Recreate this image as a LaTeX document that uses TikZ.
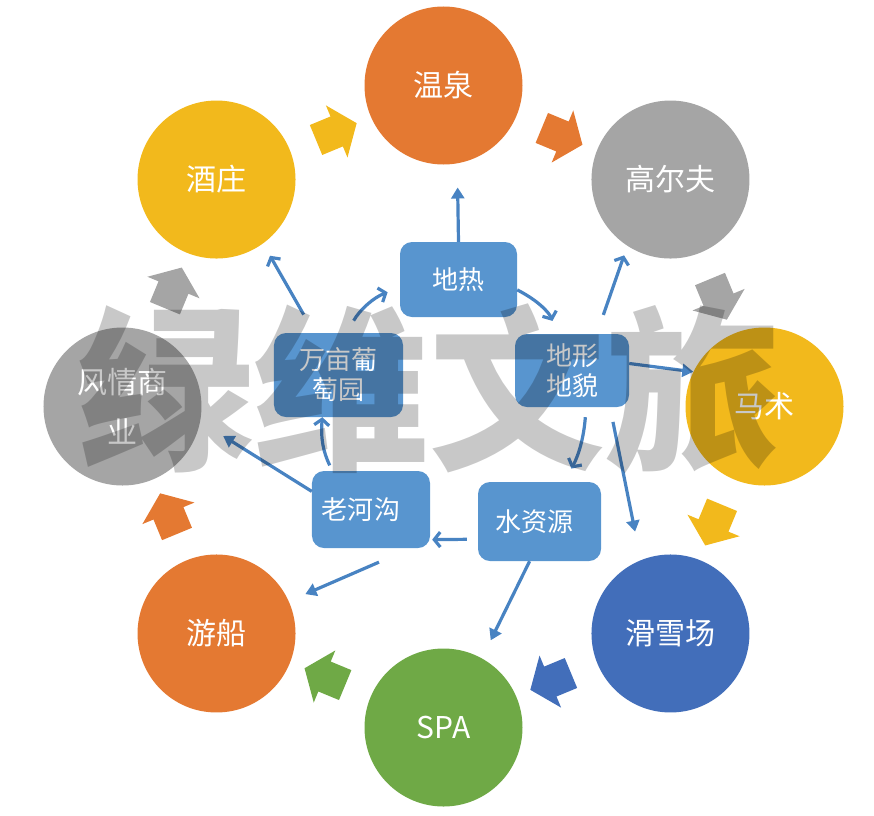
\documentclass[tikz,border=0pt]{standalone}
\usepackage{fontspec}
\setmainfont{Noto Sans CJK SC}
\usepackage{tikz}
\usetikzlibrary{shapes.arrows,arrows.meta,positioning}
\definecolor{hot}{RGB}{228,121,50}
\definecolor{stone}{RGB}{165,165,165}
\definecolor{gold}{RGB}{242,185,28}
\definecolor{deep}{RGB}{66,110,186}
\definecolor{leaf}{RGB}{111,169,70}
\definecolor{boxblue}{RGB}{88,149,207}
\definecolor{linkblue}{RGB}{72,131,194}

\begin{document}
\begin{tikzpicture}[x=1pt,y=1pt,
  ring/.style={circle,minimum size=158pt,inner sep=0pt,text=white,align=center,font=\fontsize{30}{50}\selectfont},
  flow/.style={single arrow,inner xsep=0pt,inner ysep=16pt,minimum height=44pt,minimum width=0pt,single arrow head extend=12pt,single arrow tip angle=105},
  src/.style={rounded corners=12pt,fill=boxblue,text=white,inner sep=0pt,align=center,font=\fontsize{26}{30}\selectfont},
  link/.style={line width=3.2pt,draw=linkblue,-{Triangle[length=11pt,width=13pt]}},
  barb/.style={line width=3.2pt,draw=linkblue,-{Straight Barb[length=6pt,width=15pt]}}]
\useasboundingbox (-443.5,-408.5) rectangle (430.5,406.5);
% outer ring
\foreach \a/\n/\c/\t in {90/wq/hot/温泉,45/gef/stone/高尔夫,0/ms/gold/马术,-45/hxc/deep/滑雪场,-90/spa/leaf/SPA,-135/yc/hot/游船,180/fq/stone/{风情商\\业},135/jz/gold/酒庄}
   \node[ring,fill=\c] (\n) at (\a:321) {\t};
% block arrows, clockwise
\foreach \a/\c [count=\i] in {112.5/gold,67.5/hot,22.5/stone,-22.5/gold,-67.5/deep,-112.5/leaf,-157.5/hot,157.5/stone}
   \node[flow,fill=\c,rotate=\a-90] (f\i) at (\a:295) {};
% resources
\node[src,minimum width=117pt,minimum height=75pt] (dr) at (15,127) {地热};
\node[src,minimum width=114pt,minimum height=73pt] (dx) at (128.5,36) {地形\\地貌};
\node[src,minimum width=129pt,minimum height=84pt] (wm) at (-105,31.5) {万亩葡\\萄园};
\node[src,minimum width=118pt,minimum height=77pt] (lhg) at (-72.5,-103) {老河沟\hspace*{20pt}};
\node[src,minimum width=123pt,minimum height=79pt] (szy) at (96,-115) {水资源\hspace*{10pt}};
% links
\draw[link,shorten >=24pt] (dr.north) -- (wq.-80);
\draw[barb,shorten >=14pt] (dr.-10) to[bend left=20] (dx.111);
\draw[barb,shorten <=14pt,shorten >=13pt] (wm.79) to[bend left=20] (dr.188);
\draw[barb,shorten <=21pt,shorten >=14pt] (wm.120) -- (jz.-54);
\draw[barb,shorten <=20pt,shorten >=10pt] (dx.56) -- (gef.-123);
\draw[link] (dx.7) -- (ms.154);
\draw[barb,shorten <=10pt,shorten >=15pt] (dx.-69) to[bend left=12] (szy.58);
\draw[link,shorten <=15pt,shorten >=29pt] (dx.-44) -- (hxc.112);
\draw[barb,shorten <=6pt] (lhg.135) to[bend left=15] (wm.-111);
\draw[link,shorten >=27pt] (lhg.163) -- (fq.-11);
\draw[barb,shorten <=11pt,shorten >=2pt] (szy.196) -- (lhg.-27);
\draw[link,shorten <=35pt,shorten >=18pt] (lhg.-44) -- (yc.24);
\draw[link,shorten >=20pt] (szy.-104) -- (spa.61);
% watermark
\node[font=\fontsize{176}{176}\selectfont\bfseries,text=black,text opacity=0.215] (mark) at (-13.5,17.5) {绿维文旅};
\end{tikzpicture}
\end{document}
